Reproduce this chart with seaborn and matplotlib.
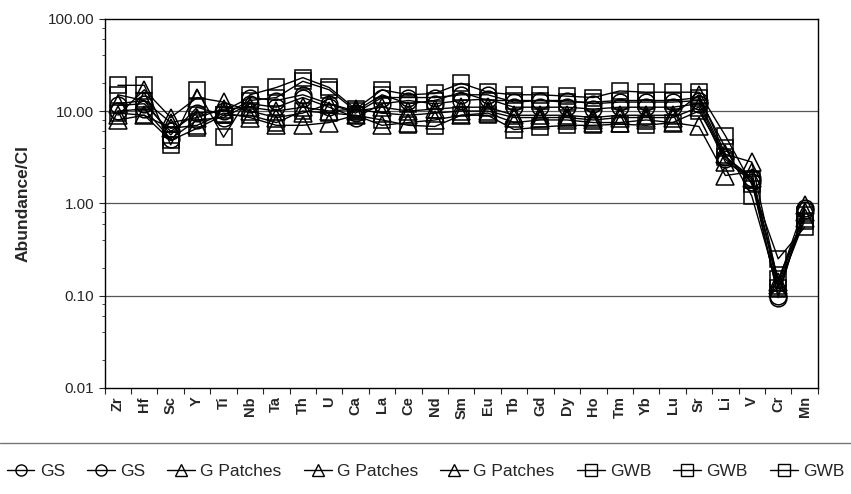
import numpy as np
import pandas as pd
import seaborn as sns
import matplotlib.pyplot as plt
from matplotlib.lines import Line2D
from matplotlib.ticker import FuncFormatter, LogLocator, FixedLocator, NullFormatter

elements = ['Zr', 'Hf', 'Sc', 'Y', 'Ti', 'Nb', 'Ta', 'Th', 'U', 'Ca', 'La', 'Ce', 'Nd', 'Sm',
            'Eu', 'Tb', 'Gd', 'Dy', 'Ho', 'Tm', 'Yb', 'Lu', 'Sr', 'Li', 'V', 'Cr', 'Mn']

gs_1 = [11.5, 12, 6.0, 9.5, 10.0, 14, 13, 15, 12, 9.5, 14, 14, 14, 15, 15, 12.5, 13, 13, 12,
        12.5, 12.5, 12.5, 13, 3.2, 1.9, 0.095, 0.9]
gs_2 = [10, 10.5, 5.0, 8.0, 8.5, 12, 11, 14, 11, 8.5, 12, 13, 12, 13, 13.5, 11, 11, 11, 10.5,
        11, 11, 11, 12, 3.0, 1.7, 0.10, 0.85]
gp_1 = [9.0, 17, 8.5, 14, 12.5, 10, 8.5, 9.5, 12, 10, 11, 10, 10.5, 11, 11, 9, 9, 9, 8.5,
        9, 9, 9, 15, 3.4, 2.8, 0.14, 0.95]
gp_2 = [8.0, 9, 6.5, 7.0, 9.5, 8.5, 7, 7, 7.5, 9, 7, 7.5, 8, 9, 9.5, 7.5, 8, 8, 7.5,
        7.5, 8, 7.5, 6.8, 2.0, 2.2, 0.12, 0.7]
gp_3 = [12, 13, 7.5, 8.5, 10.5, 11, 10, 11, 10, 10.5, 9.5, 9, 9.5, 10, 10, 8.5, 8.5, 8.5, 8.0,
        8.5, 8.5, 8.5, 11, 2.8, 1.9, 0.13, 0.8]
gwb_1 = [19, 19, 4.3, 17, 5.2, 15, 18, 23, 18, 10.5, 17, 15, 15.5, 20, 16, 15, 15, 14.5, 14,
         16.5, 16, 16, 16, 5.4, 1.6, 0.25, 0.55]
gwb_2 = [15, 13, 5.5, 11, 9, 13, 14, 21, 17, 10, 15, 12, 13, 16, 13, 13, 13, 12.5, 12.5,
         13, 13, 13, 14, 4.0, 1.2, 0.12, 0.65]
gwb_3 = [9.5, 9, 4.8, 6.5, 9, 9, 7.5, 10, 9.5, 9, 8, 7, 6.8, 9, 9, 6.3, 6.7, 7, 7,
         7.2, 7, 7.5, 10, 3.2, 1.8, 0.15, 0.75]

names = ['GS', 'GS', 'G Patches', 'G Patches', 'G Patches', 'GWB', 'GWB', 'GWB']
series = [gs_1, gs_2, gp_1, gp_2, gp_3, gwb_1, gwb_2, gwb_3]
markers = ['o', 'o', '^', '^', '^', 's', 's', 's']
msizes = [12, 12, 13, 13, 13, 12, 12, 12]

sns.set_theme(style='white')
plt.rcParams['font.family'] = ['Liberation Sans', 'DejaVu Sans']

fig = plt.figure(figsize=(8.51, 4.94), dpi=100)
ax = fig.add_axes([0.123, 0.215, 0.838, 0.747])

pos = np.arange(len(elements))
for vals, m, ms in zip(series, markers, msizes):
    df = pd.DataFrame({'pos': pos, 'val': vals})
    sns.lineplot(data=df, x='pos', y='val', ax=ax, color='black', linewidth=1,
                 marker=m, markersize=ms, markerfacecolor='none',
                 markeredgecolor='black', markeredgewidth=1.1)

ax.set_yscale('log')
ax.set_ylim(0.01, 100)
ax.set_xlim(-0.5, len(elements) - 0.5)
ax.yaxis.set_major_formatter(FuncFormatter(lambda v, p: f'{v:.2f}'))
ax.yaxis.set_minor_locator(LogLocator(base=10, subs=(2, 4, 6, 8)))
ax.yaxis.set_minor_formatter(NullFormatter())
for yv in [0.1, 1, 10]:
    ax.axhline(yv, color='#555555', linewidth=0.9, zorder=0)

ax.xaxis.set_major_locator(FixedLocator(np.arange(len(elements) + 1) - 0.5))
ax.xaxis.set_major_formatter(NullFormatter())
ax.xaxis.set_minor_locator(FixedLocator(pos))
ax.set_xticklabels(elements, minor=True, rotation=90, fontsize=10.5, fontweight='bold')
ax.tick_params(axis='x', which='major', direction='out', length=4, width=0.8, bottom=True)
ax.tick_params(axis='x', which='minor', length=0, pad=6)
ax.tick_params(axis='y', which='major', direction='out', length=4, width=0.8, left=True,
               labelsize=11)
ax.tick_params(axis='y', which='minor', direction='out', length=2, width=0.6, left=True)

ax.set_xlabel('')
ax.set_ylabel('Abundance/CI', fontsize=12.5, fontweight='bold', labelpad=12)
for s in ax.spines.values():
    s.set_color('black')
    s.set_linewidth(1)

handles = [Line2D([], [], color='black', linewidth=1, marker=m, markersize=8,
                  markerfacecolor='none', markeredgecolor='black') for m in markers]
fig.legend(handles, names, loc='center', bbox_to_anchor=(0.5, 0.045), ncol=8,
           frameon=False, fontsize=12.5, handlelength=1.6, handletextpad=0.3,
           columnspacing=1.28, borderpad=0, borderaxespad=0)
fig.add_artist(Line2D([0, 1], [0.103, 0.103], transform=fig.transFigure,
                      color='#777777', linewidth=1))

fig.savefig('out.png', dpi=100)
